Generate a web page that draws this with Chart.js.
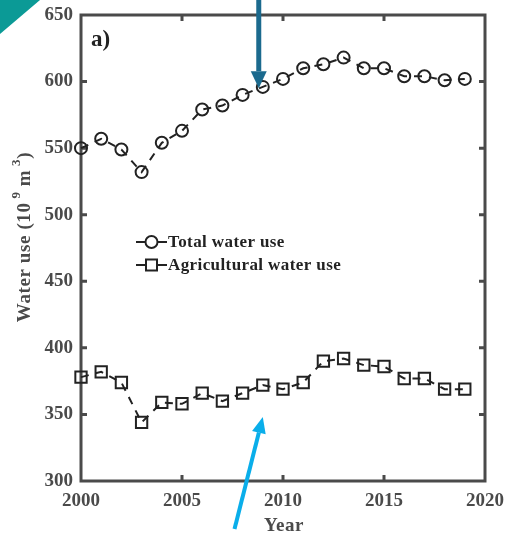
<!DOCTYPE html>
<html>
<head>
<meta charset="utf-8">
<script src="https://cdn.jsdelivr.net/npm/chart.js@4.4.1/dist/chart.umd.min.js"></script>
<style>
  html, body { margin: 0; padding: 0; background: #fff; }
  #wrap { width: 507px; height: 534px; }
</style>
</head>
<body>
<div id="wrap"><canvas id="c" width="507" height="534"></canvas></div>
<script>
// Yearly water use, 10^9 m^3
const years = [2000, 2001, 2002, 2003, 2004, 2005, 2006, 2007, 2008, 2009,
               2010, 2011, 2012, 2013, 2014, 2015, 2016, 2017, 2018, 2019];
const totalUse = [550, 557, 549, 532, 554, 563, 579, 582, 590, 596,
                  602, 610, 613, 618, 610, 610, 604, 604, 601, 602];
const agriUse  = [378, 382, 374, 344, 359, 358, 366, 360, 366, 372,
                  369, 374, 390, 392, 387, 386, 377, 377, 369, 369];
const seriesLabels = ['Total water use', 'Agricultural water use'];
const xTicks = [2000, 2005, 2010, 2015, 2020];
const yTicks = [300, 350, 400, 450, 500, 550, 600, 650];

const SERIF = '"Liberation Serif", "Times New Roman", serif';
const AXIS = '#4a4a4a';
const INK = '#222222';

function points(vals) { return years.map((y, i) => ({ x: y, y: vals[i] })); }

function arrow(ctx, x0, y0, x1, y1, color, shaft, headW, headL) {
  const ang = Math.atan2(y1 - y0, x1 - x0);
  const bx = x1 - Math.cos(ang) * headL, by = y1 - Math.sin(ang) * headL;
  ctx.save();
  ctx.strokeStyle = color; ctx.fillStyle = color;
  ctx.lineWidth = shaft; ctx.lineCap = 'butt';
  ctx.beginPath(); ctx.moveTo(x0, y0); ctx.lineTo(bx, by); ctx.stroke();
  const nx = -Math.sin(ang) * headW / 2, ny = Math.cos(ang) * headW / 2;
  ctx.beginPath();
  ctx.moveTo(x1, y1);
  ctx.lineTo(bx + nx, by + ny);
  ctx.lineTo(bx - nx, by - ny);
  ctx.closePath(); ctx.fill();
  ctx.restore();
}

const frame = {
  id: 'frame',
  beforeDatasetsDraw(chart) {
    const { ctx, chartArea: a, scales: { x, y } } = chart;
    ctx.save();
    // box and inward ticks
    ctx.strokeStyle = AXIS; ctx.lineWidth = 3;
    ctx.strokeRect(a.left, a.top, a.right - a.left, a.bottom - a.top);
    ctx.beginPath();
    xTicks.slice(1, -1).forEach(v => {
      const px = x.getPixelForValue(v);
      ctx.moveTo(px, a.bottom); ctx.lineTo(px, a.bottom - 6);
      ctx.moveTo(px, a.top); ctx.lineTo(px, a.top + 6);
    });
    yTicks.slice(1, -1).forEach(v => {
      const py = y.getPixelForValue(v);
      ctx.moveTo(a.left, py); ctx.lineTo(a.left + 6, py);
      ctx.moveTo(a.right, py); ctx.lineTo(a.right - 6, py);
    });
    ctx.stroke();
    ctx.restore();
  },
  afterDatasetsDraw(chart) {
    const { ctx, chartArea: a } = chart;
    ctx.save();
    // panel tag
    ctx.fillStyle = INK;
    ctx.font = 'bold 23px ' + SERIF;
    ctx.textBaseline = 'middle'; ctx.textAlign = 'left';
    ctx.fillText('a)', a.left + 10, a.top + 25);

    // legend
    ctx.font = 'bold 17px ' + SERIF;
    ctx.letterSpacing = '0.4px';
    const lx = a.left + 55;
    chart.data.datasets.forEach((ds, i) => {
      const ly = a.top + 227 + i * 23;
      ctx.strokeStyle = INK; ctx.lineWidth = 2;
      ctx.beginPath(); ctx.moveTo(lx, ly); ctx.lineTo(lx + 31, ly); ctx.stroke();
      ctx.fillStyle = '#fff';
      ctx.beginPath();
      if (ds.pointStyle === 'rect') { ctx.rect(lx + 10, ly - 5.5, 11, 11); }
      else { ctx.arc(lx + 15.5, ly, 6, 0, Math.PI * 2); }
      ctx.fill(); ctx.stroke();
      ctx.fillStyle = INK;
      ctx.fillText(ds.label, lx + 32, ly + 1);
    });

    // axis titles
    ctx.fillStyle = AXIS;
    ctx.font = 'bold 19px ' + SERIF;
    ctx.letterSpacing = '0.5px';
    ctx.textAlign = 'center';
    ctx.fillText('Year', (a.left + a.right) / 2 + 1, 526);

    ctx.translate(25, (a.top + a.bottom) / 2 - 11);
    ctx.rotate(-Math.PI / 2);
    ctx.letterSpacing = '0.6px';
    const parts = [['Water use (10', 0], [' 9', 1], [' m', 0], [' 3', 1], [')', 0]];
    const widthOf = p => { ctx.font = (p[1] ? 'bold 13px ' : 'bold 19px ') + SERIF; return ctx.measureText(p[0]).width; };
    const total = parts.reduce((s, p) => s + widthOf(p), 0);
    let cx = -total / 2;
    ctx.textAlign = 'left';
    parts.forEach(p => {
      const w = widthOf(p);
      ctx.fillText(p[0], cx, p[1] ? -8 : 0);
      cx += w;
    });
    ctx.restore();
  },
  afterDraw(chart) {
    const { ctx, scales: { x, y } } = chart;
    // corner wedge
    ctx.save();
    ctx.fillStyle = '#0b9a96';
    ctx.beginPath(); ctx.moveTo(0, 0); ctx.lineTo(40, 0); ctx.lineTo(0, 34); ctx.closePath(); ctx.fill();
    ctx.restore();
    // pointers
    arrow(ctx, x.getPixelForValue(2008.8), 0, x.getPixelForValue(2008.8), y.getPixelForValue(595),
          '#1b6a8e', 5, 16, 17);
    arrow(ctx, x.getPixelForValue(2007.6), y.getPixelForValue(264), x.getPixelForValue(2009.0), y.getPixelForValue(348),
          '#0aaeea', 4, 14, 16);
  }
};

const tickFont = { family: SERIF, size: 19, weight: 'bold' };

new Chart(document.getElementById('c'), {
  type: 'line',
  data: {
    datasets: [
      { label: seriesLabels[0], data: points(totalUse), pointStyle: 'circle', clip: false,
        pointRadius: 6, borderColor: INK, pointBorderColor: INK, pointBackgroundColor: 'rgba(0,0,0,0)',
        borderWidth: 2, pointBorderWidth: 2, borderDash: [8, 7], tension: 0, fill: false },
      { label: seriesLabels[1], data: points(agriUse), pointStyle: 'rect', clip: false,
        pointRadius: 8, borderColor: INK, pointBorderColor: INK, pointBackgroundColor: 'rgba(0,0,0,0)',
        borderWidth: 2, pointBorderWidth: 2, borderDash: [8, 7], tension: 0, fill: false }
    ]
  },
  options: {
    responsive: false,
    devicePixelRatio: 1,
    animation: false,
    layout: { padding: { left: 0, right: 22, top: 15, bottom: 0 } },
    plugins: { legend: { display: false }, tooltip: { enabled: false } },
    scales: {
      x: {
        type: 'linear', min: 2000, max: 2020,
        afterBuildTicks: s => { s.ticks = xTicks.map(v => ({ value: v })); },
        ticks: { font: tickFont, color: AXIS, padding: 9, maxRotation: 0, autoSkip: false,
                 callback: v => String(v) },
        grid: { display: false, drawTicks: false },
        border: { display: false },
        afterFit: s => { s.height = 53; s.paddingLeft = 0; s.paddingRight = 0; }
      },
      y: {
        type: 'linear', min: 300, max: 650,
        afterBuildTicks: s => { s.ticks = yTicks.map(v => ({ value: v })); },
        ticks: { font: tickFont, color: AXIS, padding: 8, autoSkip: false },
        grid: { display: false, drawTicks: false },
        border: { display: false },
        afterFit: s => { s.width = 81; s.paddingTop = 0; s.paddingBottom = 0; }
      }
    }
  },
  plugins: [frame]
});
</script>
</body>
</html>
